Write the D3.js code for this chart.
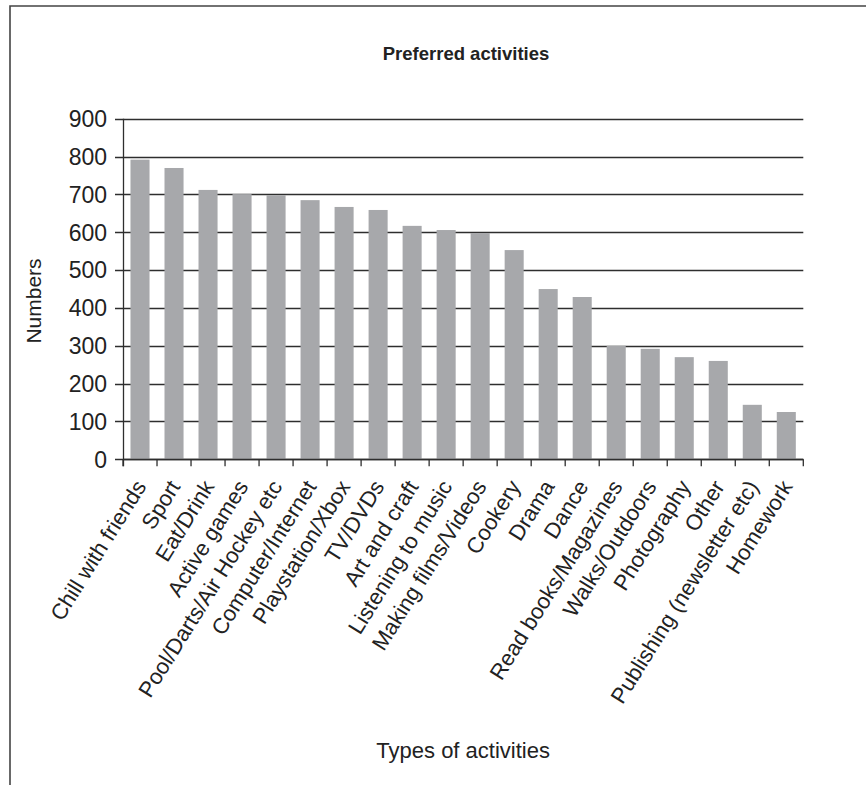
<!DOCTYPE html>
<html>
<head>
<meta charset="utf-8">
<script src="https://cdn.jsdelivr.net/npm/d3@7"></script>
<style>
  html, body { margin: 0; padding: 0; background: #fff; }
  svg { display: block; }
  text { font-family: "Liberation Sans", Arial, sans-serif; fill: #222; }
</style>
</head>
<body>
<svg id="chart" width="866" height="785"></svg>
<script>
// Preferred activities survey: number of responses per activity
const activities = [
  "Chill with friends", "Sport", "Eat/Drink", "Active games",
  "Pool/Darts/Air Hockey etc", "Computer/Internet", "Playstation/Xbox",
  "TV/DVDs", "Art and craft", "Listening to music", "Making films/Videos",
  "Cookery", "Drama", "Dance", "Read books/Magazines", "Walks/Outdoors",
  "Photography", "Other", "Publishing (newsletter etc)", "Homework"
];
const numbers = [
  792, 770, 712, 701, 698, 685, 667, 659, 617, 606,
  598, 553, 450, 429, 300, 292, 270, 260, 144, 125
];
const yTicks = [0, 100, 200, 300, 400, 500, 600, 700, 800, 900];

const title = "Preferred activities";
const yTitle = "Numbers";
const xTitle = "Types of activities";

const svg = d3.select("#chart");

// outer frame of the chart area
svg.append("path")
  .attr("d", "M10,785 L10,6 L866,6")
  .attr("fill", "none")
  .attr("stroke", "#444")
  .attr("stroke-width", 1.6);

const plotLeft = 123, plotRight = 803.3, plotTop = 118.8, plotBottom = 459.3;

const x = d3.scaleBand()
  .domain(activities)
  .range([plotLeft, plotRight])
  .paddingInner(0.44)
  .paddingOuter(0.22);

const y = d3.scaleLinear()
  .domain([0, 900])
  .range([plotBottom, plotTop]);

// horizontal gridlines (extend left as the y-axis ticks)
svg.append("g")
  .selectAll("line")
  .data(yTicks)
  .join("line")
  .attr("x1", plotLeft - 8)
  .attr("x2", plotRight)
  .attr("y1", d => Math.round(y(d)) + 0.5)
  .attr("y2", d => Math.round(y(d)) + 0.5)
  .attr("stroke", "#2e2e2e")
  .attr("stroke-width", 1.3);

// y tick labels
svg.append("g")
  .selectAll("text")
  .data(yTicks)
  .join("text")
  .attr("x", plotLeft - 16)
  .attr("y", d => y(d))
  .attr("dy", "0.36em")
  .attr("text-anchor", "end")
  .attr("font-size", 23)
  .text(d => d);

// bars
svg.append("g")
  .selectAll("rect")
  .data(activities)
  .join("rect")
  .attr("x", d => x(d))
  .attr("width", x.bandwidth())
  .attr("y", (d, i) => y(numbers[i]))
  .attr("height", (d, i) => y(0) - y(numbers[i]))
  .attr("fill", "#a7a8ab");

// y axis line
svg.append("line")
  .attr("x1", plotLeft + 0.5).attr("x2", plotLeft + 0.5)
  .attr("y1", y(900)).attr("y2", plotBottom + 7)
  .attr("stroke", "#2e2e2e").attr("stroke-width", 1.3);

// x axis line and tick marks at category boundaries
const step = x.step();
const boundaries = activities.map(d => x(d) + x.bandwidth() / 2 - step / 2)
  .concat([x(activities[activities.length - 1]) + x.bandwidth() / 2 + step / 2]);

svg.append("line")
  .attr("x1", plotLeft).attr("x2", plotRight)
  .attr("y1", Math.round(plotBottom) + 0.5).attr("y2", Math.round(plotBottom) + 0.5)
  .attr("stroke", "#2e2e2e").attr("stroke-width", 1.4);

svg.append("g")
  .selectAll("line")
  .data(boundaries)
  .join("line")
  .attr("x1", d => d).attr("x2", d => d)
  .attr("y1", plotBottom).attr("y2", plotBottom + 7)
  .attr("stroke", "#2e2e2e").attr("stroke-width", 1.3);

// rotated category labels
svg.append("g")
  .selectAll("text")
  .data(activities)
  .join("text")
  .attr("font-size", 22)
  .attr("text-anchor", "end")
  .attr("transform", d => `translate(${x(d) + x.bandwidth() / 2 - 6},${plotBottom + 19}) rotate(-58)`)
  .attr("dy", "0.7em")
  .text(d => d);

// titles
svg.append("text")
  .attr("x", 466).attr("y", 60)
  .attr("text-anchor", "middle")
  .attr("font-size", 18.5)
  .attr("font-weight", "bold")
  .text(title);

svg.append("text")
  .attr("transform", `translate(41,301) rotate(-90)`)
  .attr("text-anchor", "middle")
  .attr("font-size", 21)
  .text(yTitle);

svg.append("text")
  .attr("x", (plotLeft + plotRight) / 2).attr("y", 758)
  .attr("text-anchor", "middle")
  .attr("font-size", 22)
  .text(xTitle);
</script>
</body>
</html>
